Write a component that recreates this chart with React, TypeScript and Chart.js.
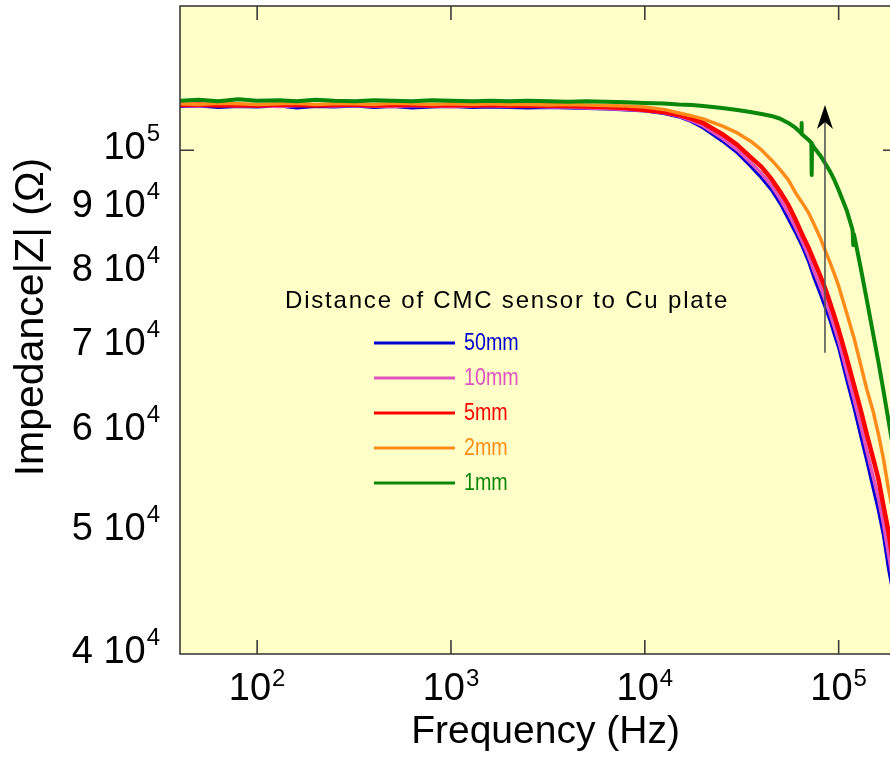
import React, { useEffect, useRef } from "react";
import { Chart, registerables } from "chart.js";

Chart.register(...registerables);

const FONT = "'Liberation Sans', Arial, Helvetica, sans-serif";

// ---------- data ----------
const freqHz = [
  40, 50, 63, 80, 100, 130, 160, 200, 250, 320, 400, 500, 630, 800, 1000, 1300, 1600, 2000, 2500, 3200,
  4000, 5000, 6300, 8000, 10000, 12500, 15000, 17500, 20000, 25000, 30000, 35000, 40000, 45000, 50000,
  55000, 60000, 65000, 70000, 75000, 80000, 85000, 90000, 95000, 100000, 110000, 120000, 130000, 140000,
  150000, 160000, 170000, 180000, 190000, 200000,
];

const z50mm = [
  108300, 108400, 108100, 108300, 108200, 108400, 108000, 108300, 108200, 108400, 108100, 108300, 108000,
  108200, 108300, 108100, 108200, 108100, 108000, 108100, 108000, 107900, 107800, 107600,
  107400, 106900, 106240, 105280, 104140, 101710, 99510, 97180, 95090, 93030, 90700, 88250, 86030, 83870,
  81620, 79130, 77140, 75200, 73450, 71480, 69800, 65850, 62580, 59460, 56720, 54200, 51980, 49660, 46870,
  44780, 43180,
];

const z10mm = [
  108500, 108400, 108600, 108400, 108500, 108300, 108500, 108600, 108400, 108500, 108400, 108300, 108500,
  108400, 108300, 108400, 108500, 108300, 108400, 108200, 108200, 108000, 107900, 107700,
  107490, 107040, 106400, 105510, 104520, 102230, 100090, 97820, 95850, 93780, 91490, 89160, 86850, 84610,
  82450, 80110, 78160, 76250, 74420, 72460, 70720, 66900, 63630, 60600, 57840, 55390, 53210, 50760, 48130,
  45830, 44190,
];

const z5mm = [
  108600, 108700, 108500, 108600, 108500, 108700, 108600, 108500, 108600, 108700, 108500, 108600, 108600,
  108500, 108600, 108500, 108600, 108500, 108400, 108500, 108400, 108300, 108200, 108000,
  107610, 107210, 106630, 105860, 105090, 103010, 100970, 98790, 97010, 94910, 92700, 90530, 88110, 85720,
  83720, 81620, 79700, 77850, 75890, 73980, 72120, 68550, 65250, 62350, 59560, 57230, 55090, 52450, 50120,
  47460, 45760,
];

const z2mm = [
  108800, 108700, 108900, 108800, 108700, 108800, 108900, 108700, 108800, 108800, 108700, 108900, 108800,
  108700, 108800, 108700, 108800, 108700, 108700, 108600, 108700, 108600, 108500, 108400,
  108190, 107710, 107020, 106440, 105860, 104520, 103200, 101710, 100050, 98250, 96480, 94740, 92530, 90860,
  89230, 87300, 85410, 83440, 81620, 79850, 78130, 74390, 71080, 67680, 64660, 62350, 59780, 57130, 54200,
  51980, 50120,
];

const freq1mm = [
  40, 50, 63, 80, 100, 130, 160, 200, 250, 320, 400, 500, 630, 800, 1000, 1300, 1600, 2000, 2500, 3200,
  4000, 5000, 6300, 8000, 10000, 12500, 15000, 17500, 20000, 25000, 30000, 35000, 40000, 45000, 50000,
  55000, 60000, 64000, 64300, 64600, 70000, 72300, 72600, 72900, 75000, 80000, 85000, 90000, 95000, 100000,
  110000, 118000, 118900, 119800, 130000, 140000, 150000, 160000, 170000, 180000, 190000, 200000,
];

const z1mm = [
  109400, 109600, 109300, 109700, 109400, 109500, 109300, 109600, 109400, 109300, 109500, 109400, 109300,
  109500, 109400, 109300, 109400, 109300, 109400, 109300, 109200, 109300, 109200, 109100,
  108980, 108880, 108680, 108580, 108390, 108000, 107610, 107210, 106830, 106440, 105900, 105090, 104140,
  103200, 105090, 103010, 101890, 101340, 95610, 101150, 100420, 99150, 97720, 96300, 94740, 93030,
  89670, 86500, 84160, 85880, 80720, 76030, 71870, 68180, 64660, 61390, 58490, 55900,
];

const seriesLabels = ["50mm", "10mm", "5mm", "2mm", "1mm"];
const seriesColors = ["#0000D2", "#E052BE", "#FF0000", "#FF8C1A", "#0B870B"];
const seriesWidths = [3, 3.5, 4.5, 3.5, 4];
const legendTitle = "Distance of CMC sensor to Cu plate";
const xTitle = "Frequency (Hz)";
const yTitle = "Impedance|Z| (\u03A9)";

const xTickValues = [100, 1000, 10000, 100000];
const xTickBase = ["10", "10", "10", "10"];
const xTickExp = ["2", "3", "4", "5"];
const yTickValues = [40000, 50000, 60000, 70000, 80000, 90000, 100000];
const yTickBase = ["4 10", "5 10", "6 10", "7 10", "8 10", "9 10", "10"];
const yTickExp = ["4", "4", "4", "4", "4", "4", "5"];
const yMarkedTicks = [100000];

const xRange = [40, 200000];
const yRange = [40000, 130000];

const arrowFreq = [85000];
const arrowZ = [69200, 108600];

// ---------- helpers ----------
const toPoints = (f: number[], z: number[]) => f.map((v, i) => ({ x: v, y: z[i] }));

const BASE_FONT = `38px ${FONT}`;
const EXP_FONT = `24px ${FONT}`;

function drawPowerLabel(ctx: CanvasRenderingContext2D, base: string, exp: string, x: number, baseline: number, align: "center" | "right", raise: number) {
  ctx.font = BASE_FONT;
  const wb = ctx.measureText(base).width;
  ctx.font = EXP_FONT;
  const we = ctx.measureText(exp).width;
  const gap = 1;
  const total = wb + gap + we;
  const start = align === "center" ? x - total / 2 : x - total;
  ctx.textAlign = "left";
  ctx.textBaseline = "alphabetic";
  ctx.fillStyle = "#000";
  ctx.font = BASE_FONT;
  ctx.fillText(base, start, baseline);
  ctx.font = EXP_FONT;
  ctx.fillText(exp, start + wb + gap, baseline - raise);
}

const decorPlugin = {
  id: "decor",
  beforeDraw(chart: any) {
    const { ctx, chartArea: a } = chart;
    ctx.save();
    ctx.fillStyle = "#FFFFC8";
    ctx.fillRect(a.left, a.top, a.right - a.left, a.bottom - a.top);
    ctx.restore();
  },
  afterDatasetsDraw(chart: any) {
    const { ctx, chartArea: a, scales } = chart;
    const xs = scales.x;
    const ys = scales.y;
    ctx.save();
    // arrow
    const ax = xs.getPixelForValue(arrowFreq[0]);
    const ay0 = ys.getPixelForValue(arrowZ[0]);
    const ay1 = ys.getPixelForValue(arrowZ[1]);
    ctx.strokeStyle = "#555555";
    ctx.lineWidth = 1.6;
    ctx.beginPath();
    ctx.moveTo(ax, ay0);
    ctx.lineTo(ax, ay1 + 12);
    ctx.stroke();
    ctx.fillStyle = "#000000";
    ctx.beginPath();
    ctx.moveTo(ax, ay1);
    ctx.lineTo(ax + 8, ay1 + 24);
    ctx.lineTo(ax, ay1 + 17);
    ctx.lineTo(ax - 8, ay1 + 24);
    ctx.closePath();
    ctx.fill();

    // border and inward ticks
    ctx.strokeStyle = "#3c3c3c";
    ctx.lineWidth = 1.6;
    ctx.strokeRect(a.left, a.top, a.right - a.left, a.bottom - a.top);
    const L = 14;
    ctx.beginPath();
    xTickValues.forEach((v) => {
      const px = xs.getPixelForValue(v);
      ctx.moveTo(px, a.bottom);
      ctx.lineTo(px, a.bottom - L);
      ctx.moveTo(px, a.top);
      ctx.lineTo(px, a.top + L);
    });
    yMarkedTicks.forEach((v) => {
      const py = ys.getPixelForValue(v);
      ctx.moveTo(a.left, py);
      ctx.lineTo(a.left + L, py);
      ctx.moveTo(a.right, py);
      ctx.lineTo(a.right - L, py);
    });
    ctx.stroke();

    // tick labels (power-of-ten notation)
    xTickValues.forEach((v, i) => {
      const px = xs.getPixelForValue(v);
      drawPowerLabel(ctx, xTickBase[i], xTickExp[i], px, a.bottom + 46, "center", 14);
    });
    yTickValues.forEach((v, i) => {
      const py = ys.getPixelForValue(v);
      drawPowerLabel(ctx, yTickBase[i], yTickExp[i], a.left - 20, py + 8.5, "right", 18);
    });

    // axis titles
    ctx.fillStyle = "#000";
    ctx.font = `39px ${FONT}`;
    ctx.textAlign = "center";
    ctx.textBaseline = "alphabetic";
    ctx.fillText(xTitle, (a.left + a.right) / 2 + 7, a.bottom + 89);
    ctx.save();
    ctx.translate(43, a.top + 311);
    ctx.rotate(-Math.PI / 2);
    ctx.font = `41px ${FONT}`;
    ctx.fillText(yTitle, 0, 0);
    ctx.restore();

    // legend
    ctx.fillStyle = "#000000";
    ctx.font = `24px ${FONT}`;
    ctx.textBaseline = "alphabetic";
    ctx.textAlign = "left";
    (ctx as any).letterSpacing = "1.8px";
    ctx.fillText(legendTitle, a.left + 105, a.top + 302);
    (ctx as any).letterSpacing = "0px";
    seriesLabels.forEach((lab, i) => {
      const y = a.top + 337 + i * 35;
      ctx.strokeStyle = seriesColors[i];
      ctx.lineWidth = 3;
      ctx.beginPath();
      ctx.moveTo(a.left + 194, y);
      ctx.lineTo(a.left + 275, y);
      ctx.stroke();
      ctx.save();
      ctx.translate(a.left + 284, y);
      ctx.scale(0.82, 1);
      ctx.fillStyle = seriesColors[i];
      ctx.font = `24px ${FONT}`;
      ctx.textBaseline = "middle";
      ctx.fillText(lab, 0, 0);
      ctx.restore();
    });
    ctx.restore();
  },
};

export default function App() {
  const ref = useRef<HTMLCanvasElement>(null);
  useEffect(() => {
    const canvas = ref.current;
    if (!canvas) return;
    const order = [4, 3, 2, 1, 0]; // 1mm on top
    const datasets = order.map((i) => {
      const data = i === 4 ? toPoints(freq1mm, z1mm) : toPoints(freqHz, [z50mm, z10mm, z5mm, z2mm][i]);
      return {
        label: seriesLabels[i],
        data,
        borderColor: seriesColors[i],
        backgroundColor: seriesColors[i],
        borderWidth: seriesWidths[i],
        pointRadius: 0,
        tension: 0,
        fill: false,
        borderJoinStyle: "round" as const,
      };
    });
    const chart = new Chart(canvas, {
      type: "line",
      data: { datasets },
      options: {
        responsive: false,
        animation: false,
        devicePixelRatio: 1,
        layout: { padding: { left: 0, top: 6, right: 13, bottom: 0 } },
        plugins: { legend: { display: false }, tooltip: { enabled: false } },
        scales: {
          x: {
            type: "logarithmic",
            min: xRange[0],
            max: xRange[1],
            position: "bottom",
            afterFit: (s: any) => {
              s.height = 111;
              s.paddingLeft = 0;
              s.paddingRight = 0;
            },
            afterBuildTicks: (s: any) => {
              s.ticks = xTickValues.map((v) => ({ value: v }));
            },
            ticks: { display: false },
            grid: { display: false, drawTicks: false },
            border: { display: false },
            title: { display: false },
          },
          y: {
            type: "logarithmic",
            min: yRange[0],
            max: yRange[1],
            position: "left",
            afterFit: (s: any) => {
              s.width = 180;
              s.paddingTop = 0;
              s.paddingBottom = 0;
            },
            afterBuildTicks: (s: any) => {
              s.ticks = yTickValues.map((v) => ({ value: v }));
            },
            ticks: { display: false },
            grid: { display: false, drawTicks: false },
            border: { display: false },
            title: { display: false },
          },
        },
      },
      plugins: [decorPlugin],
    } as any);
    return () => chart.destroy();
  }, []);
  return (
    <div
      style={{
        position: "absolute",
        left: 0,
        top: 0,
        width: 890,
        height: 765,
        overflow: "hidden",
        background: "#ffffff",
      }}
    >
      <canvas ref={ref} width={910} height={765} style={{ display: "block", width: 910, height: 765 }} />
    </div>
  );
}
